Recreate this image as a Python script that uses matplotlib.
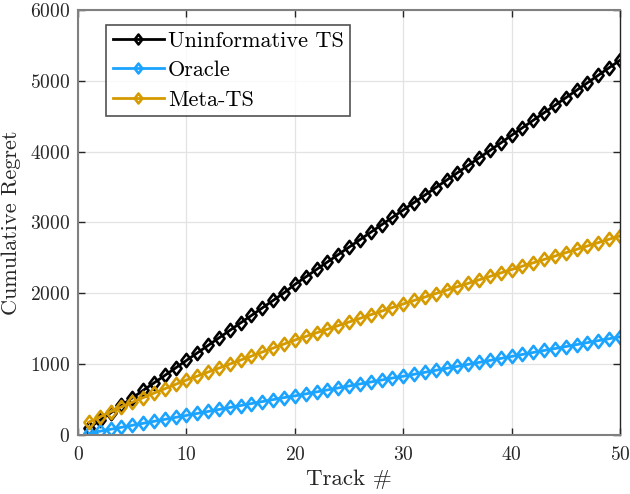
import numpy as np
import matplotlib.pyplot as plt
from matplotlib.path import Path

plt.rcParams['font.family'] = 'serif'
plt.rcParams['font.serif'] = ['cmr10', 'DejaVu Serif']
plt.rcParams['axes.formatter.use_mathtext'] = True

# data
track = list(range(1, 51))
uninformative = [100, 206, 312, 418, 524, 630, 735, 841, 947, 1053,
                 1159, 1265, 1371, 1477, 1583, 1688, 1794, 1900, 2006, 2125,
                 2230, 2336, 2441, 2546, 2651, 2756, 2861, 2966, 3071, 3176,
                 3281, 3386, 3491, 3596, 3701, 3806, 3911, 4016, 4121, 4230,
                 4336, 4442, 4548, 4653, 4759, 4865, 4971, 5077, 5183, 5289]
oracle = [25, 53, 81, 109, 137, 165, 193, 221, 249, 277,
          305, 333, 361, 389, 416, 444, 472, 500, 528, 552,
          580, 608, 636, 664, 692, 720, 748, 776, 804, 829,
          857, 885, 913, 941, 969, 997, 1025, 1053, 1081, 1109,
          1137, 1165, 1193, 1220, 1248, 1276, 1304, 1332, 1359, 1386]
meta_ts = [180, 255, 328, 397, 463, 527, 591, 653, 715, 776,
           832, 889, 945, 1002, 1058, 1114, 1171, 1227, 1284, 1340,
           1391, 1442, 1493, 1544, 1595, 1646, 1697, 1748, 1799, 1850,
           1899, 1947, 1996, 2044, 2093, 2141, 2190, 2238, 2287, 2335,
           2383, 2430, 2478, 2525, 2573, 2620, 2668, 2715, 2763, 2810]

names = ['Uninformative TS', 'Oracle', 'Meta-TS']
colors = ['#000000', '#1aa3ff', '#d49a00']

# diamond a bit taller than wide, like matlab's
w = 0.77
diamond = Path([(0, 1), (w, 0), (0, -1), (-w, 0), (0, 1)],
               [Path.MOVETO, Path.LINETO, Path.LINETO, Path.LINETO, Path.CLOSEPOLY])

fig = plt.figure(figsize=(6.3, 4.94), dpi=100)
ax = fig.add_axes([0.124, 0.1194, 0.86, 0.8606])

for ys, nm, c in zip([uninformative, oracle, meta_ts], names, colors):
    ax.plot(track, ys, color=c, lw=2, marker=diamond, markersize=9.5,
            mfc='none', mec=c, mew=1.9, label=nm)

ax.set_xlim(0, 50)
ax.set_ylim(0, 6000)
ax.set_xticks([0, 10, 20, 30, 40, 50])
ax.set_yticks([0, 1000, 2000, 3000, 4000, 5000, 6000])
ax.grid(True, color='#e3e3e3', lw=0.9)
ax.set_axisbelow(True)
ax.tick_params(direction='in', top=True, right=True, labelsize=14,
               colors='#262626', length=5, width=1)
ax.tick_params(axis='x', pad=8)
ax.tick_params(axis='y', pad=6)
for s in ['left', 'bottom', 'top']:
    ax.spines[s].set_color('#808080')
    ax.spines[s].set_linewidth(1.5)
ax.spines['right'].set_color('#262626')
ax.spines['right'].set_linewidth(1.0)

ax.set_xlabel('Track #', fontsize=16.5, color='#262626', labelpad=4)
ax.set_ylabel('Cumulative Regret', fontsize=16, color='#262626', labelpad=6)

leg = ax.legend(loc='upper left', bbox_to_anchor=(0.052, 0.965), fontsize=16,
                frameon=True, fancybox=False, edgecolor='#262626',
                markerscale=0.75, handlelength=2.3, labelspacing=0.45,
                borderpad=0.28, handletextpad=0.2, borderaxespad=0)
leg.get_frame().set_linewidth(1.2)

plt.savefig('out.png', dpi=100)
